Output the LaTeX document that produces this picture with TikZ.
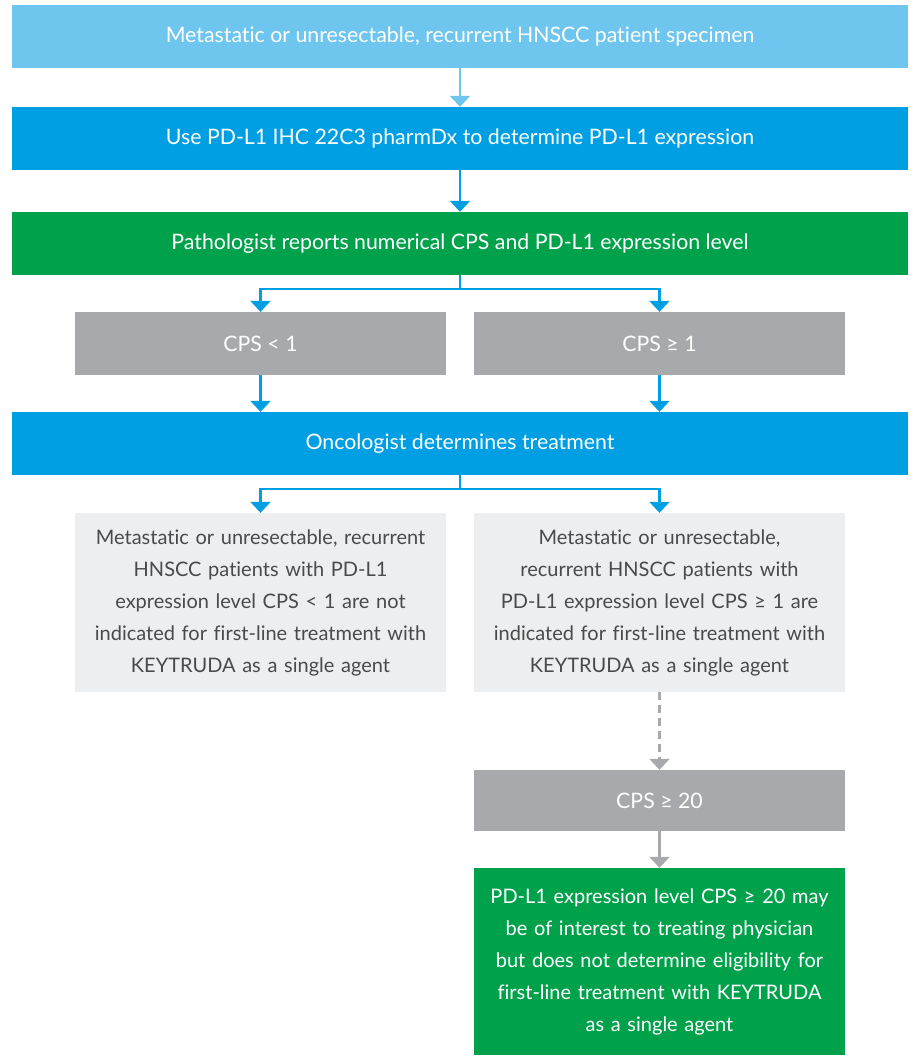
\documentclass[tikz,border=0pt]{standalone}
\usepackage{fontspec}
\setmainfont[Ligatures=NoCommon]{Lato}
\usetikzlibrary{arrows.meta}
\definecolor{lblue}{HTML}{6EC6EF}
\definecolor{mblue}{HTML}{009FE3}
\definecolor{mgreen}{HTML}{00A14B}
\definecolor{mgray}{HTML}{A7A9AC}
\definecolor{lgray}{HTML}{EDEEEF}
\definecolor{tgray}{HTML}{4A4A4A}
\tikzset{
  box/.style={rectangle, draw=none, inner sep=0pt, align=center, text=white,
    font=\fontsize{21.3}{32}\selectfont},
  wide/.style={box, minimum width=896pt, minimum height=63pt},
  half/.style={box, minimum width=371pt, minimum height=63pt},
  note/.style={box, minimum width=371pt, text width=355pt, fill=lgray, text=tgray,
    font=\fontsize{20}{32}\selectfont},
  arr/.style={line width=2.5pt, -{Triangle[width=20pt,length=11pt]}},
}
\begin{document}
\begin{tikzpicture}[x=1pt,y=-1pt]
\useasboundingbox (0,0) rectangle (915,1057);
\node[wide, fill=lblue] (b1) at (460,36.5) {Metastatic or unresectable, recurrent HNSCC patient specimen};
\node[wide, fill=mblue] (b2) at (460,138.5) {Use PD-L1 IHC 22C3 pharmDx to determine PD-L1 expression};
\node[wide, fill=mgreen] (b3) at (460,243.5) {Pathologist reports numerical CPS and PD-L1 expression level};
\node[half, fill=mgray] (c1) at (260.5,343.5) {CPS < 1};
\node[half, fill=mgray] (c2) at (659.5,343.5) {CPS ≥ 1};
\node[wide, fill=mblue] (onc) at (460,443.5) {Oncologist determines treatment};
\node[note, minimum height=179pt] (n1) at (260.5,602.5) {Metastatic or unresectable, recurrent\\HNSCC patients with PD-L1\\expression level CPS < 1 are not\\indicated for first-line treatment with\\KEYTRUDA as a single agent};
\node[note, minimum height=179pt] (n2) at (659.5,602.5) {Metastatic or unresectable,\\recurrent HNSCC patients with\\PD-L1 expression level CPS ≥ 1 are\\indicated for first-line treatment with\\KEYTRUDA as a single agent};
\node[half, fill=mgray, minimum height=61pt] (c20) at (659.5,800.5) {CPS ≥ 20};
\node[note, fill=mgreen, text=white, minimum height=187pt] (g) at (659.5,961.5) {PD-L1 expression level CPS ≥ 20 may\\be of interest to treating physician\\but does not determine eligibility for\\first-line treatment with KEYTRUDA\\as a single agent};
\draw[arr, lblue] (b1) -- (b2);
\draw[arr, mblue] (b2) -- (b3);
\draw[arr, mblue] (b3.south) -- ++(0,14) -| (c1.north);
\draw[arr, mblue] (b3.south) -- ++(0,14) -| (c2.north);
\draw[arr, mblue] (c1) -- (c1 |- onc.north);
\draw[arr, mblue] (c2) -- (c2 |- onc.north);
\draw[arr, mblue] (onc.south) -- ++(0,14) -| (n1.north);
\draw[arr, mblue] (onc.south) -- ++(0,14) -| (n2.north);
\draw[arr, mgray, dash pattern=on 8pt off 5pt] (n2) -- (c20);
\draw[arr, mgray] (c20) -- (g);
\end{tikzpicture}
\end{document}
